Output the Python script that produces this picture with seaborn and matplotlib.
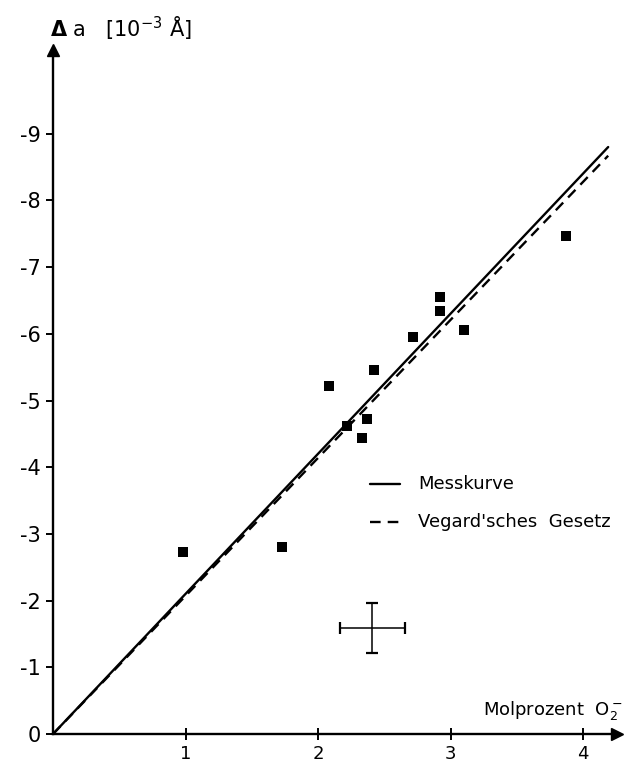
import matplotlib
matplotlib.use("Agg")
import matplotlib.pyplot as plt
import seaborn as sns
import pandas as pd
import numpy as np

# ---- data ----
mol_percent = [0.98, 1.73, 2.08, 2.22, 2.33, 2.37, 2.42, 2.72, 2.92, 2.92, 3.10, 3.87]
delta_a = [-2.73, -2.80, -5.22, -4.62, -4.44, -4.72, -5.45, -5.95, -6.55, -6.34, -6.06, -7.47]

line_x = [0.0, 4.19]
messkurve_y = [0.0, -8.80]
vegard_y = [0.0, -8.67]

err_x, err_y = 2.41, -1.59
err_dx, err_dy = 0.245, 0.38

x_ticks = [1, 2, 3, 4]
x_tick_labels = ["1", "2", "3", "4"]
y_ticks = [0, -1, -2, -3, -4, -5, -6, -7, -8, -9]
y_tick_labels = ["0", "-1", "-2", "-3", "-4", "-5", "-6", "-7", "-8", "-9"]

legend_labels = ["Messkurve", "Vegard'sches  Gesetz"]

# ---- figure ----
sns.set_style("white")
plt.rcParams['font.family'] = ['DejaVu Sans']
plt.rcParams['text.color'] = 'black'
plt.rcParams['xtick.color'] = 'black'
plt.rcParams['ytick.color'] = 'black'
plt.rcParams['axes.labelcolor'] = 'black'

W, H = 636, 769
fig = plt.figure(figsize=(W / 100, H / 100), dpi=100)
ox, oy = 53, 734          # origin pixel
right_px, top_px = 617, 50
ax = fig.add_axes([ox / W, 1 - oy / H, (right_px - ox) / W, (oy - top_px) / H])
ax.set_xlim(0, (right_px - ox) / 132.5)
ax.set_ylim(0, -(oy - top_px) / 66.7)

df_pts = pd.DataFrame({"x": mol_percent, "y": delta_a})
df_lines = pd.DataFrame({
    "x": line_x + line_x,
    "y": messkurve_y + vegard_y,
    "kurve": [legend_labels[0]] * 2 + [legend_labels[1]] * 2,
})

sns.lineplot(data=df_lines[df_lines.kurve == legend_labels[0]], x="x", y="y",
             color="black", linewidth=1.7, ax=ax, legend=False)
sns.lineplot(data=df_lines[df_lines.kurve == legend_labels[1]], x="x", y="y",
             color="black", linewidth=1.7, ax=ax, legend=False)
ax.lines[1].set_dashes([4.5, 3])

sns.scatterplot(data=df_pts, x="x", y="y", marker="s", s=60, color="black",
                edgecolor="black", linewidth=0, ax=ax, legend=False, zorder=5)

ax.errorbar(err_x, err_y, xerr=err_dx, yerr=err_dy, fmt="none", ecolor="black",
            elinewidth=1.1, capsize=4, capthick=1.6)

# axes styling
for s in ["top", "right"]:
    ax.spines[s].set_visible(False)
for s in ["left", "bottom"]:
    ax.spines[s].set_linewidth(1.7)
    ax.spines[s].set_color("black")

ax.set_xticks(x_ticks)
ax.set_xticklabels(x_tick_labels, fontsize=13)
ax.set_yticks(y_ticks)
ax.set_yticklabels(y_tick_labels, fontsize=15)
ax.tick_params(axis="x", direction="inout", length=8, width=1.4, pad=4, bottom=True,
               colors="black")
ax.tick_params(axis="y", direction="out", length=5, width=1.4, pad=4, left=True,
               colors="black")
ax.set_xlabel("")
ax.set_ylabel("")

# arrow heads
ax.plot(1, 0, ">k", markersize=9, transform=ax.transAxes, clip_on=False)
ax.plot(0, 1, "^k", markersize=9, transform=ax.transAxes, clip_on=False)

# axis titles
fig.text(50 / W, 1 - 28 / H, r"$\mathbf{\Delta}$ a   [10$^{-3}$ Å]", fontsize=15,
         va="center", ha="left", color="black")
fig.text(623 / W, 1 - 710 / H, r"Molprozent  O$_2^-$", fontsize=13,
         va="center", ha="right", color="black")

# legend (manual, as in the original)
lx0, lx1, ltx = 370, 400, 418
for yy, dashed, lab in [(484, False, legend_labels[0]), (522, True, legend_labels[1])]:
    ln = plt.Line2D([lx0 / W, lx1 / W], [1 - yy / H, 1 - yy / H], color="black",
                    linewidth=1.7, transform=fig.transFigure)
    if dashed:
        ln.set_dashes([4.5, 3])
    fig.add_artist(ln)
    fig.text(ltx / W, 1 - yy / H, lab, fontsize=13, va="center", ha="left",
             color="black")

fig.savefig("out.png", dpi=100)
